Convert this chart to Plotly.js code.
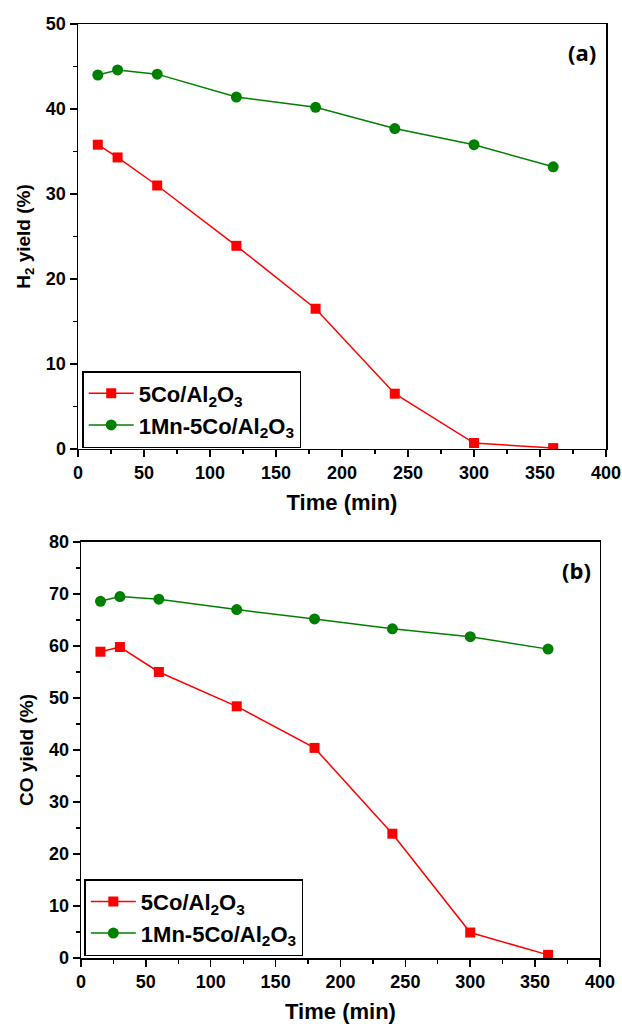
<!DOCTYPE html>
<html><head><meta charset="utf-8">
<script src="https://cdn.plot.ly/plotly-3.0.1.min.js"></script>
<style>html,body{margin:0;padding:0;background:#fff}#c{width:622px;height:1024px}</style>
</head><body><div id="c"></div>
<script>
const time = [15, 30, 60, 120, 180, 240, 300, 360];
const h2Co = [35.8, 34.3, 31.0, 23.9, 16.5, 6.5, 0.7, 0.1];
const h2MnCo = [44.0, 44.6, 44.1, 41.4, 40.2, 37.7, 35.8, 33.2];
const coCo = [58.9, 59.8, 55.0, 48.4, 40.4, 23.9, 4.9, 0.6];
const coMnCo = [68.6, 69.5, 69.0, 67.0, 65.2, 63.3, 61.8, 59.4];
const nameCo = '5Co/Al<sub>2</sub>O<sub>3</sub>';
const nameMnCo = '1Mn-5Co/Al<sub>2</sub>O<sub>3</sub>';

const red = '#ff0000', green = '#008000';
const F = 'Liberation Sans';
function tr(x, y, name, color, sym, sz, xa, ya, leg) {
  return {x: x, y: y, name: name, type: 'scatter', mode: 'lines+markers',
    line: {color: color, width: 1.5}, marker: {color: color, symbol: sym, size: sz},
    xaxis: xa, yaxis: ya, legend: leg};
}
const data = [
  tr(time, h2Co, nameCo, red, 'square', 10, 'x', 'y', 'legend'),
  tr(time, h2MnCo, nameMnCo, green, 'circle', 11, 'x', 'y', 'legend'),
  tr(time, coCo, nameCo, red, 'square', 10, 'x2', 'y2', 'legend2'),
  tr(time, coMnCo, nameMnCo, green, 'circle', 11, 'x2', 'y2', 'legend2')
];
function mn(d) { return {ticks: 'outside', ticklen: 4, tickwidth: 1.2, tickcolor: '#000', dtick: d}; }
function ax(extra) {
  return Object.assign({
    showgrid: false, zeroline: false, showline: true, linecolor: '#000', linewidth: 1.5,
    mirror: true, ticks: 'outside', ticklen: 7, tickwidth: 1.5, tickcolor: '#000',
    tickfont: {family: F, size: 18, color: '#000', weight: 'bold'}
  }, extra);
}
const xfont = {family: F, size: 22, color: '#000', weight: 'bold'};
const yfont = {family: F, size: 19, color: '#000', weight: 'bold'};
const legBase = {bordercolor: '#000', borderwidth: 1.5, bgcolor: '#fff',
  font: {family: F, size: 22, color: '#000', weight: 'bold'}, xanchor: 'left', yanchor: 'bottom',
  tracegroupgap: 0, itemwidth: 45};
const layout = {
  width: 622, height: 1024, showlegend: true,
  margin: {l: 78, r: 16, t: 24, b: 66},
  paper_bgcolor: '#fff', plot_bgcolor: '#fff',
  xaxis: ax({domain: [0, 1], range: [0, 400], dtick: 50, minor: mn(25),
    anchor: 'y', title: {text: 'Time (min)', font: xfont, standoff: 12}}),
  yaxis: ax({domain: [0.545, 1], range: [0, 50], dtick: 10, minor: mn(5),
    anchor: 'x', title: {text: 'H<sub>2</sub> yield (%)', font: yfont, standoff: 10}}),
  xaxis2: ax({domain: [0.0057, 0.9886], range: [0, 400], dtick: 50, minor: mn(25),
    anchor: 'y2', title: {text: 'Time (min)', font: xfont, standoff: 12}}),
  yaxis2: ax({domain: [0, 0.4454], range: [0, 80], dtick: 10, minor: mn(5),
    anchor: 'x2', title: {text: 'CO yield (%)', font: yfont, standoff: 10}}),
  legend: Object.assign({}, legBase, {x: 0.008, y: 0.546}),
  legend2: Object.assign({}, legBase, {x: 0.012, y: 0.002}),
  annotations: [
    {text: '(a)', x: 0.985, y: 0.988, xref: 'paper', yref: 'paper', xanchor: 'right', yanchor: 'top', showarrow: false,
      font: {family: 'Open Sans', size: 22, color: '#000', weight: 'bold'}},
    {text: '(b)', x: 0.975, y: 0.434, xref: 'paper', yref: 'paper', xanchor: 'right', yanchor: 'top', showarrow: false,
      font: {family: 'Open Sans', size: 22, color: '#000', weight: 'bold'}}
  ]
};
Plotly.newPlot('c', data, layout, {displayModeBar: false, staticPlot: true});
</script></body></html>
